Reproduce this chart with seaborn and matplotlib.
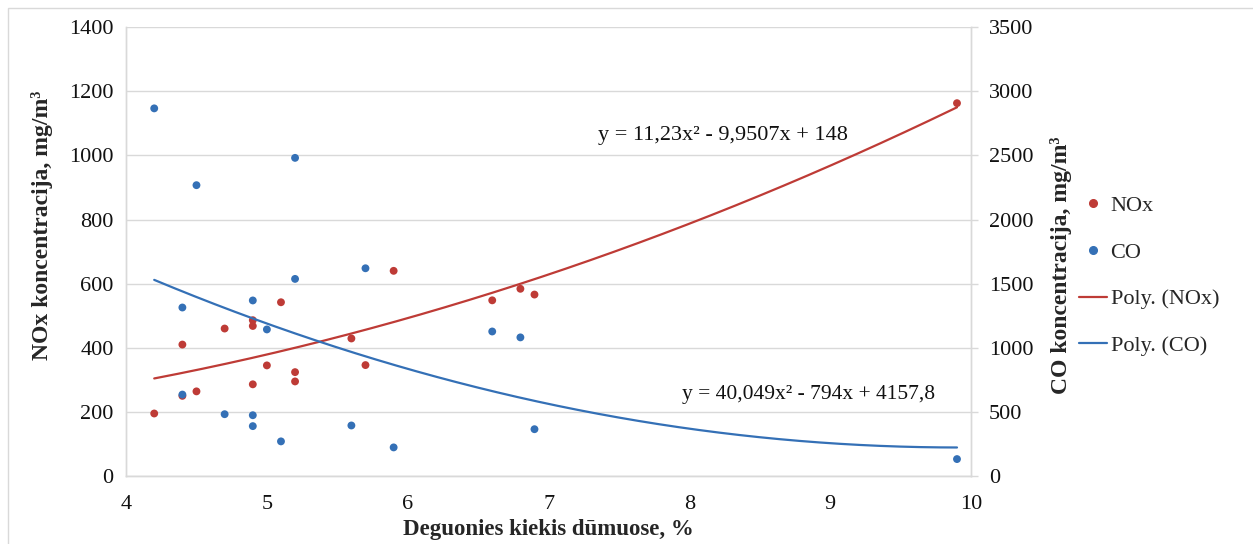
import numpy as np
import pandas as pd
import matplotlib
matplotlib.use('Agg')
import matplotlib.pyplot as plt
import seaborn as sns
from matplotlib.lines import Line2D
from matplotlib.patches import Rectangle

# oxygen content, % (shared x for both series)
oxygen = [4.2, 4.4, 4.4, 4.5, 4.7, 4.9, 4.9, 4.9, 5.0, 5.1,
          5.2, 5.2, 5.6, 5.7, 5.9, 6.6, 6.8, 6.9, 9.9]
nox = [195, 410, 250, 264, 460, 486, 468, 286, 345, 542,
       324, 295, 429, 346, 640, 548, 584, 566, 1163]
co = [2867, 1314, 635, 2268, 482, 1369, 474, 389, 1143, 270,
      2481, 1537, 394, 1620, 223, 1127, 1081, 365, 132]

# trend line coefficients as printed on the chart (a*x^2 + b*x + c)
nox_coef = [11.23, -9.9507, 148]
co_coef = [40.049, -794, 4157.8]
nox_eq = 'y = 11,23x² - 9,9507x + 148'
co_eq = 'y = 40,049x² - 794x + 4157,8'

red = '#BE3B36'
blue = '#3470B6'
grid_c = '#D9D9D9'
fs = 16

sns.set_theme(style='white')
plt.rcParams['font.family'] = ['Liberation Serif', 'DejaVu Serif']

df = pd.DataFrame({'oxygen': oxygen, 'NOx': nox, 'CO': co})
xs = np.linspace(min(oxygen), max(oxygen), 200)
fit = pd.DataFrame({'x': xs,
                    'nox': np.polyval(nox_coef, xs),
                    'co': np.polyval(co_coef, xs)})

fig = plt.figure(figsize=(12.53, 5.44), dpi=100)
ax = fig.add_axes([0.1006, 0.125, 0.6744, 0.825])
ax2 = ax.twinx()

sns.lineplot(data=fit, x='x', y='nox', ax=ax, color=red, lw=1.6, zorder=3)
sns.lineplot(data=fit, x='x', y='co', ax=ax2, color=blue, lw=1.6, zorder=3)
sns.scatterplot(data=df, x='oxygen', y='CO', ax=ax2, color=blue, s=32,
                edgecolor='none', zorder=4)
sns.scatterplot(data=df, x='oxygen', y='NOx', ax=ax, color=red, s=32,
                edgecolor='none', zorder=4)

ax.set_xlim(4, 10)
ax.set_ylim(0, 1400)
ax2.set_ylim(0, 3500)
ax.set_xticks(range(4, 11))
ax.set_yticks(range(0, 1401, 200))
ax2.set_yticks(range(0, 3501, 500))
ax.yaxis.grid(True, color=grid_c, lw=1)
ax.set_axisbelow(True)

for a in (ax, ax2):
    a.spines['top'].set_visible(False)
    for s in ('left', 'bottom', 'right'):
        a.spines[s].set_color(grid_c)
        a.spines[s].set_linewidth(1)
    a.set_facecolor('none')

ax.tick_params(axis='y', length=0, pad=9, labelsize=fs, labelcolor='#111111')
ax.tick_params(axis='x', length=0, pad=14, labelsize=fs, labelcolor='#111111')
ax2.tick_params(axis='y', length=5, width=1, color=grid_c, pad=8,
                labelsize=fs, labelcolor='#111111')

ax.set_xlabel('Deguonies kiekis dūmuose, %', fontsize=16.5, fontweight='bold')
ax.set_ylabel('NOx koncentracija, mg/m³', fontsize=17, fontweight='bold')
ax2.set_ylabel('CO koncentracija, mg/m³', fontsize=17, fontweight='bold')
ax.xaxis.set_label_coords(0.5, -0.096)
ax.yaxis.set_label_coords(-0.086, 0.559)
ax2.yaxis.set_label_coords(1.093, 0.47)

ax.text(7.35, 1063, nox_eq, fontsize=fs, va='center', ha='left', color='#111111')
ax.text(7.95, 253, co_eq, fontsize=15.5, va='center', ha='left', color='#111111')

handles = [
    Line2D([], [], marker='o', ls='none', color=red, markersize=5.5),
    Line2D([], [], marker='o', ls='none', color=blue, markersize=5.5),
    Line2D([], [], color=red, lw=1.6),
    Line2D([], [], color=blue, lw=1.6),
]
labels = ['NOx', 'CO', 'Poly. (NOx)', 'Poly. (CO)']
fig.legend(handles, labels, loc='center left', bbox_to_anchor=(0.8455, 0.493),
           frameon=False, fontsize=fs, labelspacing=1.18, handlelength=1.25,
           handletextpad=0.15)

fig.patches.append(Rectangle((0.0065, -0.05), 1.2, 1.035, transform=fig.transFigure,
                             fill=False, edgecolor=grid_c, lw=1))

fig.savefig('out.png', dpi=100, facecolor='white')
